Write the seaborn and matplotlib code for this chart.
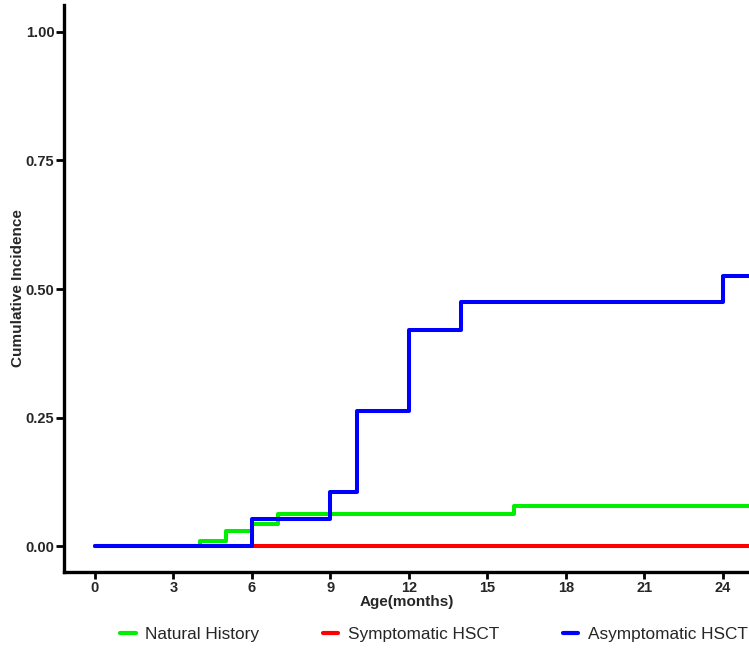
import numpy as np
import pandas as pd
import matplotlib
matplotlib.use("Agg")
import matplotlib.pyplot as plt
import seaborn as sns

# ---- data ----
groups = ["Natural History", "Symptomatic HSCT", "Asymptomatic HSCT"]
colors = ["#00ee00", "#ff0000", "#0000ff"]

months_nh = [0, 4, 5, 6, 7, 16, 25]
ci_nh = [0.0, 0.010, 0.030, 0.043, 0.063, 0.079, 0.079]

months_sym = [0, 25]
ci_sym = [0.0, 0.0]

months_asym = [0, 6, 9, 10, 12, 14, 24, 25]
ci_asym = [0.0, 0.053, 0.105, 0.263, 0.421, 0.474, 0.526, 0.526]

x_ticks = [0, 3, 6, 9, 12, 15, 18, 21, 24]
y_ticks = [0.00, 0.25, 0.50, 0.75, 1.00]

df = pd.concat([
    pd.DataFrame({"Age": months_nh, "CI": ci_nh, "Group": groups[0]}),
    pd.DataFrame({"Age": months_sym, "CI": ci_sym, "Group": groups[1]}),
    pd.DataFrame({"Age": months_asym, "CI": ci_asym, "Group": groups[2]}),
], ignore_index=True)

sns.set_theme(style="ticks")
plt.rcParams["font.family"] = ["Liberation Sans", "DejaVu Sans"]

fig = plt.figure(figsize=(7.49, 6.48), dpi=100)
ax = fig.add_axes([64 / 749, (648 - 572) / 648, 1 - 64 / 749, (572 - 5) / 648])

sns.lineplot(data=df, x="Age", y="CI", hue="Group", hue_order=groups,
             palette=colors, drawstyle="steps-post", estimator=None,
             linewidth=2.9, ax=ax, legend=True)

ax.set_xlim(-1.18, 25)
ax.set_ylim(-0.05, 1.052)
ax.set_xticks(x_ticks)
ax.set_yticks(y_ticks)
ax.set_yticklabels([f"{v:.2f}" for v in y_ticks])
for lab in ax.get_xticklabels() + ax.get_yticklabels():
    lab.set_fontweight("bold")
    lab.set_fontsize(10.5)
ax.tick_params(axis="x", direction="out", length=5, width=2, color="black", pad=1.5)
ax.tick_params(axis="y", direction="out", length=6, width=2, color="black", pad=1)

ax.set_xlabel("Age(months)", fontsize=11, fontweight="bold", labelpad=0)
ax.set_ylabel("Cumulative Incidence", fontsize=11, fontweight="bold")
ax.yaxis.set_label_coords((25 - 64) / 685, 0.5)

for side in ["top", "right"]:
    ax.spines[side].set_visible(False)
for side in ["left", "bottom"]:
    ax.spines[side].set_linewidth(2.4)
    ax.spines[side].set_color("black")

handles, labels = ax.get_legend_handles_labels()
for h in handles:
    h.set_linewidth(3)
ax.legend_.remove()
fig.legend(handles, labels, loc="center", bbox_to_anchor=(434 / 749, 1 - 634 / 648),
           ncol=3, frameon=False, fontsize=12.4, handlelength=0.9,
           handletextpad=0.55, columnspacing=3.7)

fig.savefig("out.png", dpi=100)
